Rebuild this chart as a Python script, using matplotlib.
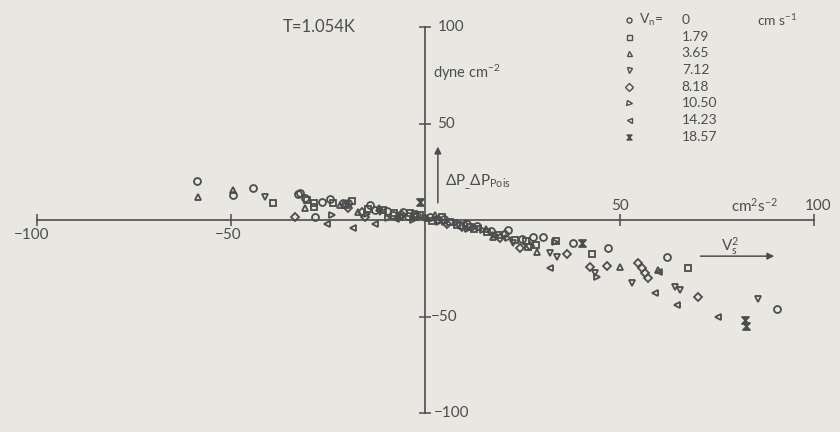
import numpy as np
import matplotlib
matplotlib.use("Agg")
import matplotlib.pyplot as plt
from matplotlib.path import Path

plt.rcParams['font.family'] = ['Lato', 'DejaVu Sans']
plt.rcParams['mathtext.fontset'] = 'custom'
plt.rcParams['mathtext.rm'] = 'Lato'
plt.rcParams['mathtext.default'] = 'regular'

# --- data: (V_s^2 in cm^2 s^-2, dP - dP_Pois in dyne cm^-2) ---
vn_labels = ["0", "1.79", "3.65", "7.12", "8.18", "10.50", "14.23", "18.57"]

circ_x = [-58.8, -49.5, -44.4, -32.8, -32.3, -31.0, -28.4, -26.5, -24.6, -21.2, -19.9, -14.3,
          -13.0, -10.0, -8.4, -5.8, -4.5, -3.0, 1.2, 3.0, 4.8, 8.9, 10.8, 13.3, 17.0, 21.2,
          24.8, 27.7, 30.2, 38.0, 47.0, 62.1, 90.5]
circ_y = [20.2, 13.0, 16.6, 13.5, 14.0, 11.4, 1.6, 9.5, 10.9, 8.8, 8.8, 7.8,
          5.2, 4.5, 2.6, 4.1, 2.1, 3.0, 1.6, 0.5, 0.5, -2.6, -2.0, -3.1, -5.5, -5.2,
          -9.8, -8.8, -8.8, -11.9, -14.5, -19.2, -46.1]

sq_x = [-39.3, -30.5, -28.7, -28.7, -23.8, -20.5, -18.9, -14.8, -10.9, -8.0, -6.5, -4.0,
        -2.8, -1.4, 1.8, 4.2, 6.3, 8.0, 11.5, 12.5, 15.8, 19.0, 23.0, 26.0, 26.4, 28.5,
        33.6, 42.8, 67.6]
sq_y = [8.8, 10.4, 8.8, 6.7, 8.8, 8.0, 9.8, 5.8, 5.2, 3.8, 1.5, 3.6,
        1.8, 2.6, -0.5, 1.6, -1.0, -2.5, -3.6, -4.6, -6.2, -7.5, -10.4, -11.0, -14.0, -13.0,
        -10.9, -17.6, -24.9]

tup_x = [-58.6, -49.5, -31.0, -22.0, -17.4, -12.0, -7.1, 0.5, 2.4, 10.2, 15.5, 17.4,
         28.7, 50.1, 59.9]
tup_y = [11.9, 15.5, 6.2, 7.8, 4.1, 6.0, 2.6, 1.2, 2.6, -1.6, -4.5, -8.8,
         -16.6, -24.4, -25.9]

tdn_x = [-41.3, -11.7, 7.6, 22.5, 32.0, 33.8, 43.6, 53.2, 64.2, 65.5, 85.6]
tdn_y = [11.9, 4.1, -1.6, -12.0, -17.1, -19.2, -27.5, -32.6, -34.7, -36.3, -40.9]

dia_x = [-33.6, -20.0, -16.4, -15.6, -6.0, -2.2, 5.5, 9.5, 19.2, 20.5, 24.3, 27.0,
         36.4, 42.3, 46.7, 54.7, 55.8, 56.5, 57.3, 70.1]
dia_y = [1.6, 6.5, 4.1, 1.6, 2.8, 2.6, -2.0, -3.5, -9.3, -7.0, -14.5, -13.5,
         -17.6, -24.4, -23.8, -22.3, -24.9, -27.5, -30.1, -39.9]

trt_x = [-24.0, -15.0, -9.7, -3.2, 3.5, 5.0, 11.0, 14.8, 18.0, 21.2, 33.3, 44.1]
trt_y = [2.6, 3.0, 1.0, 0.0, -0.8, -1.0, -4.5, -5.2, -8.0, -9.3, -11.5, -29.5]

tlt_x = [-25.4, -18.7, -13.0, -7.5, -0.6, 13.5, 32.0, 59.1, 60.1, 64.7, 75.3]
tlt_y = [-2.1, -4.1, -2.1, 0.8, 1.0, -4.1, -24.9, -37.8, -26.9, -44.0, -50.3]

bow_x = [-1.4, 40.3, 82.2, 82.5]
bow_y = [9.3, -11.9, -51.8, -54.9]

ink = '#4d4d4d'
paper = '#e9e7e1'

bowtie = Path([(-1, 1), (1, 1), (-1, -1), (1, -1), (-1, 1)],
              [Path.MOVETO, Path.LINETO, Path.LINETO, Path.LINETO, Path.CLOSEPOLY])

series = [
    (circ_x, circ_y, 'o'),
    (sq_x, sq_y, 's'),
    (tup_x, tup_y, '^'),
    (tdn_x, tdn_y, 'v'),
    (dia_x, dia_y, 'D'),
    (trt_x, trt_y, '>'),
    (tlt_x, tlt_y, '<'),
    (bow_x, bow_y, bowtie),
]

fig = plt.figure(figsize=(8.4, 4.32), dpi=100, facecolor=paper)
ax = fig.add_axes([0, 0, 1, 1], facecolor=paper)
ax.set_xlim(-109.5, 106.7)
ax.set_ylim(-109.8, 114)

for sx, sy, m in series:
    filled = m is bowtie
    ax.plot(sx, sy, linestyle='none', marker=m,
            ms=5.0 if m != 'D' else 4.2,
            mfc=ink if filled else 'none', mec=ink, mew=1.3)

# axes through the origin
for side in ['top', 'right']:
    ax.spines[side].set_visible(False)
ax.spines['bottom'].set_position(('data', 0))
ax.spines['left'].set_position(('data', 0))
ax.spines['bottom'].set_bounds(-100, 100)
ax.spines['left'].set_bounds(-100, 100)
for side in ['bottom', 'left']:
    ax.spines[side].set_color(ink)
    ax.spines[side].set_linewidth(1.2)
ax.set_xticks([-100, -50, 50, 100])
ax.set_yticks([-100, -50, 50, 100])
ax.set_xticklabels([])
ax.set_yticklabels([])
ax.tick_params(axis='both', direction='inout', length=9, width=1.1, color=ink)

tk = dict(color=ink, fontsize=11)
# x tick labels
ax.text(-101.3, -7.5, '−100', ha='center', va='center', **tk)
ax.text(-50.8, -7.5, '−50', ha='center', va='center', **tk)
ax.text(50.1, 7.5, '50', ha='center', va='center', **tk)
ax.text(101, 7.5, '100', ha='center', va='center', **tk)
ax.text(84.8, 7.5, r'cm$^{2}$s$^{-2}$', ha='center', va='center', **tk)
# y tick labels
ax.text(3.3, 100, '100', ha='left', va='center', **tk)
ax.text(3.0, 50, '50', ha='left', va='center', **tk)
ax.text(1.4, -50, '−50', ha='left', va='center', **tk)
ax.text(2.2, -100, '−100', ha='left', va='center', **tk)
ax.text(1.9, 76.5, r'dyne cm$^{-2}$', ha='left', va='center', color=ink, fontsize=10.5)

ax.text(-27.4, 100, 'T=1.054K', ha='center', va='center', color=ink, fontsize=12)

# axis arrows and labels
ax.annotate('', xy=(3.2, 39.5), xytext=(3.2, 7.5),
            arrowprops=dict(arrowstyle='-|>', color=ink, lw=1.1, mutation_scale=10))
ax.text(5.0, 19.5, r'ΔP$_{\_}$ΔP$_{Pois}$', ha='left', va='center', color=ink, fontsize=11)
ax.annotate('', xy=(90.5, -18.7), xytext=(70.1, -18.7),
            arrowprops=dict(arrowstyle='-|>', color=ink, lw=1.1, mutation_scale=10))
ax.text(78.4, -13.5, r'V$_{s}^{2}$', ha='center', va='center', color=ink, fontsize=11)

# legend drawn as in the original
row0, dy = 103.6, 8.62
for i, (lab, (_, _, m)) in enumerate(zip(vn_labels, series)):
    yy = row0 - i * dy
    filled = m is bowtie
    ax.plot([52.3], [yy], linestyle='none', marker=m, ms=3.6,
            mfc=ink if filled else 'none', mec=ink, mew=1.0)
    ax.text(66.0, yy, lab, ha='left', va='center', color=ink, fontsize=10)
ax.text(55.0, row0, r'V$_n$=', ha='left', va='center', color=ink, fontsize=10)
ax.text(85.3, row0, r'cm s$^{-1}$', ha='left', va='center', color=ink, fontsize=10)

fig.savefig('out.png', dpi=100, facecolor=paper)
